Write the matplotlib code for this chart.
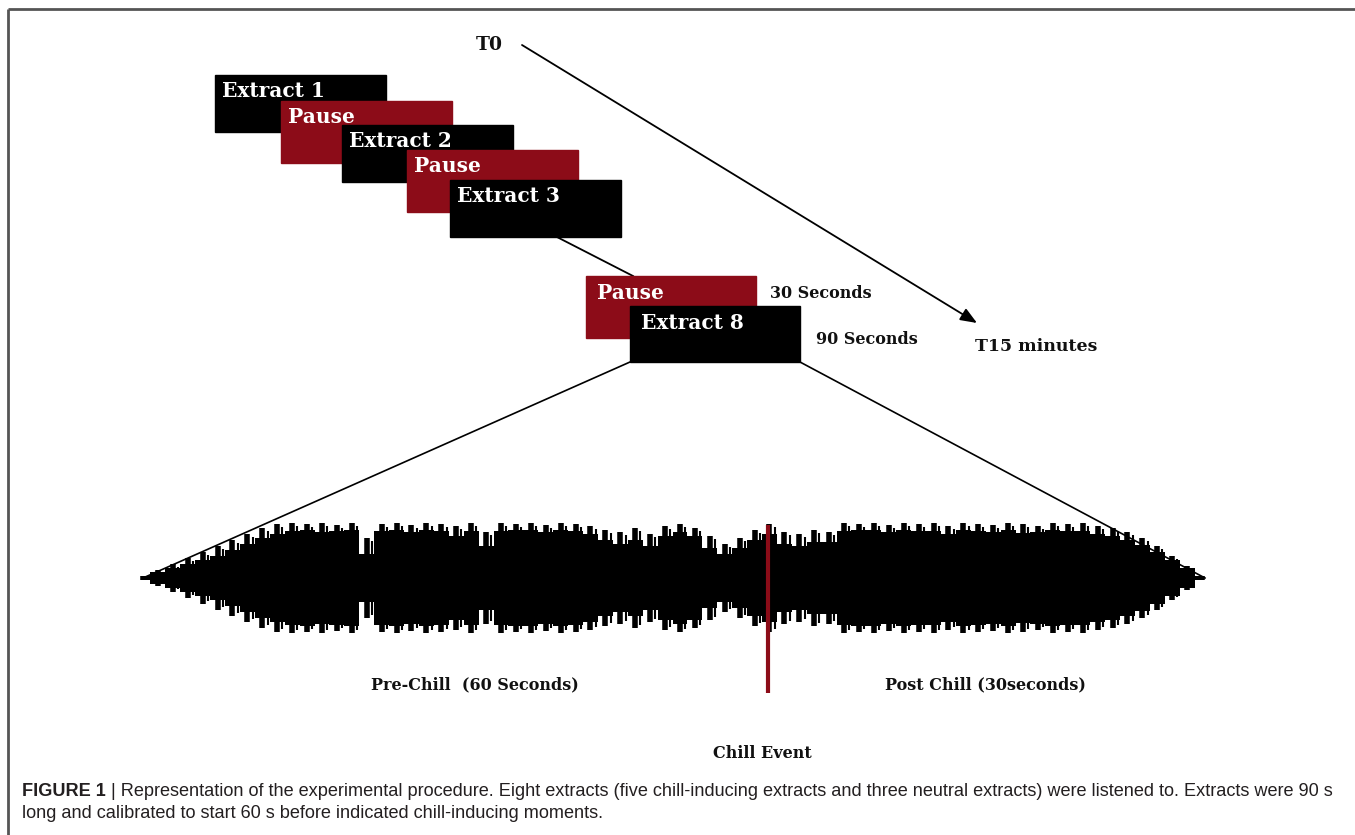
import numpy as np
import matplotlib.pyplot as plt

W, H = 1355, 835

# sequence of stimuli (top staircase)
seq_labels = ["Extract 1", "Pause", "Extract 2", "Pause", "Extract 3"]
seq_kinds = ["extract", "pause", "extract", "pause", "extract"]
last_labels = ["Pause", "Extract 8"]
last_kinds = ["pause", "extract"]
duration_labels = ["30 Seconds", "90 Seconds"]
time_labels = ["T0", "T15 minutes"]
phase_labels = ["Pre-Chill  (60 Seconds)", "Post Chill (30seconds)"]
event_label = "Chill Event"

caption_bold = "FIGURE 1"
caption_line1 = (" | Representation of the experimental procedure. Eight extracts (five chill-inducing "
                 "extracts and three neutral extracts) were listened to. Extracts were 90 s")
caption_line2 = "long and calibrated to start 60 s before indicated chill-inducing moments."

# waveform envelope (amplitude of spikes and of the dense body)
wave_peak = [2, 8, 14, 20, 26, 32, 38, 44, 50, 54, 55, 54, 55, 53, 55, 40, 54, 55,
             53, 55, 54, 52, 55, 46, 55, 54, 55, 53, 55, 54, 52, 48, 46, 50, 44, 52,
             54, 50, 42, 34, 40, 48, 54, 46, 44, 48, 46, 55, 54, 55, 53, 55, 54, 55,
             52, 55, 54, 53, 55, 54, 52, 55, 54, 55, 52, 50, 46, 40, 32, 22, 12, 2]
wave_body = [2, 6, 10, 14, 18, 22, 28, 34, 40, 44, 47, 48, 46, 47, 48, 24, 47, 48,
             46, 48, 47, 42, 47, 32, 47, 48, 48, 46, 48, 47, 44, 38, 34, 38, 32, 42,
             46, 42, 30, 24, 30, 38, 44, 34, 32, 36, 36, 47, 48, 48, 46, 48, 47, 47,
             44, 48, 47, 46, 48, 45, 46, 48, 47, 47, 44, 42, 38, 33, 26, 18, 10, 2]
chill_index = 41.9

BLACK = "#000000"
RED = "#8c0c18"
colors = {"extract": BLACK, "pause": RED}

fig = plt.figure(figsize=(W / 100, H / 100), dpi=100)
ax = fig.add_axes([0, 0, 1, 1])
ax.set_xlim(0, W)
ax.set_ylim(H, 0)
ax.axis("off")

# frame
ax.plot([8, W], [9, 9], color="#555555", lw=2, solid_capstyle="butt")
ax.plot([8, 8], [9, H], color="#555555", lw=2, solid_capstyle="butt")

box_font = dict(family="DejaVu Serif", weight="bold", fontsize=14.5, color="white")
side_font = dict(family="DejaVu Serif", weight="bold", fontsize=11.5, color="#111111")

# staircase of extracts / pauses
lefts = [215, 281, 342, 407, 450]
tops = [75, 101, 125, 150, 180]
bw, bh = 171, 57
for i, (lab, kind) in enumerate(zip(seq_labels, seq_kinds)):
    ax.add_patch(plt.Rectangle((lefts[i], tops[i]), bw, bh + (5 if kind == "pause" else 0),
                               color=colors[kind], zorder=2 + i))
    ax.text(lefts[i] + 7, tops[i] + 22, lab, zorder=2 + i, va="baseline", **box_font)

# connector to the last extract
ax.plot([555, 633], [236, 276], color=BLACK, lw=1.3, zorder=1)

lefts8 = [586, 630]
tops8 = [276, 306]
for i, (lab, kind) in enumerate(zip(last_labels, last_kinds)):
    ax.add_patch(plt.Rectangle((lefts8[i], tops8[i]), 170, 62 if kind == "pause" else 56,
                               color=colors[kind], zorder=10 + i))
    ax.text(lefts8[i] + 11, tops8[i] + 23, lab, zorder=10 + i, va="baseline", **box_font)

ax.text(770, 298, duration_labels[0], va="baseline", **side_font)
ax.text(816, 344, duration_labels[1], va="baseline", **side_font)

# time arrow
ax.text(476, 50, time_labels[0], va="baseline", **dict(side_font, fontsize=13.5))
ax.text(975, 351, time_labels[1], va="baseline", **dict(side_font, fontsize=12.5))
ax.annotate("", xy=(977, 323), xytext=(522, 45),
            arrowprops=dict(arrowstyle="-|>,head_length=1.0,head_width=0.4",
                            color=BLACK, lw=1.3, shrinkA=0, shrinkB=0))

# zoom lines from extract 8 to the waveform
ax.plot([630, 143], [362, 578], color=BLACK, lw=1.2)
ax.plot([800, 1205], [362, 578], color=BLACK, lw=1.2)

# labels under the waveform
ax.text(475, 689, phase_labels[0], ha="center", va="baseline", **side_font)
ax.text(985, 689, phase_labels[1], ha="center", va="baseline", **side_font)
ax.text(762, 758, event_label, ha="center", va="baseline", **side_font)

# waveform
wax = fig.add_axes([140 / W, 1 - 700 / H, 1065 / W, 190 / H])
idx = np.arange(len(wave_peak))
peak = np.array(wave_peak)
body = np.array(wave_body)
wax.fill_between(idx, -body, body, color=BLACK, lw=0, step="mid")
wax.vlines(idx, -peak, peak, color=BLACK, lw=4)
wax.vlines(idx + 0.35, -peak + 3, peak - 3, color=BLACK, lw=1.5)
wax.vlines(chill_index, -115, 53, color=RED, lw=3, zorder=5)
wax.set_xlim(-0.2, len(idx) - 0.8)
wax.set_ylim(-122, 68)
wax.axis("off")

# caption, shrunk to fit the frame width
cap_size = 13.5
cap_font = dict(family=["Liberation Sans Narrow", "Liberation Sans"], color="#231f20",
                va="baseline")
r = fig.canvas.get_renderer()
while True:
    t = ax.text(22, 796, caption_bold, weight="bold", fontsize=cap_size, **cap_font)
    bb = t.get_window_extent(renderer=r)
    t2 = ax.text(bb.x1, 796, caption_line1, fontsize=cap_size, **cap_font)
    if t2.get_window_extent(renderer=r).x1 <= 1346 or cap_size < 8:
        break
    t.remove()
    t2.remove()
    cap_size -= 0.1
ax.text(22, 818, caption_line2, fontsize=cap_size, **cap_font)

fig.savefig("out.png", dpi=100)
